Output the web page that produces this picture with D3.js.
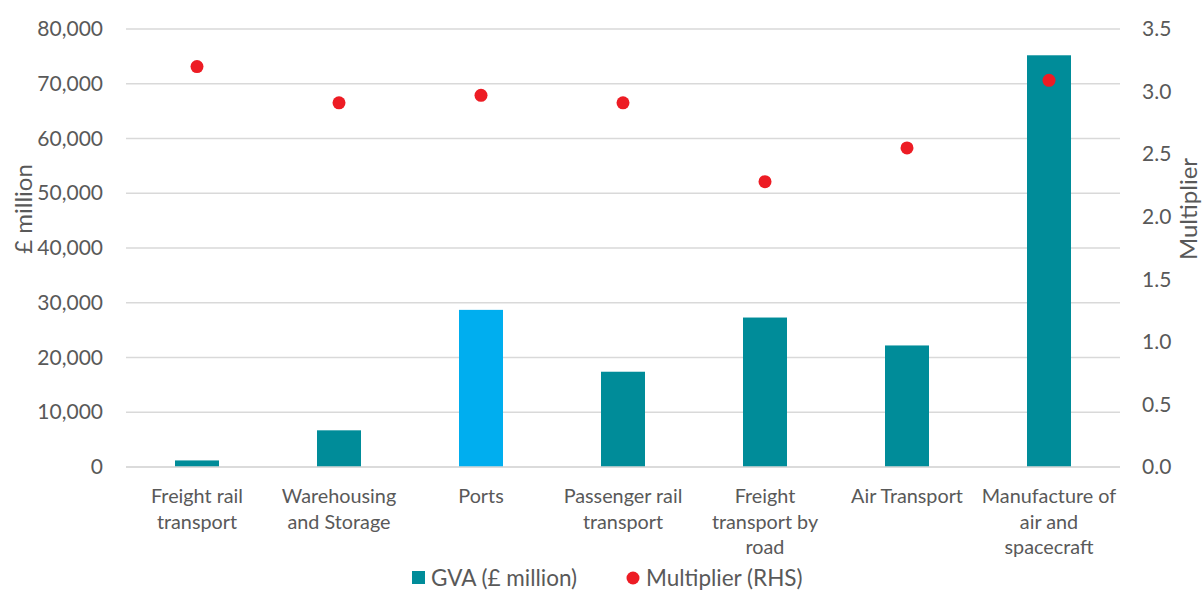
<html>
<head>
    <script src="https://d3js.org/d3.v7.min.js"></script>
    <style>
        body { margin: 0; background: #fff; }
        text { font-family: Lato, "Open Sans", sans-serif; fill: #595959; }
    </style>
</head>
<body>
    <svg id="chart" width="1203" height="590"></svg>
    <script>
        // data
        const categories = [
            ["Freight rail", "transport"],
            ["Warehousing", "and Storage"],
            ["Ports"],
            ["Passenger rail", "transport"],
            ["Freight", "transport by", "road"],
            ["Air Transport"],
            ["Manufacture of", "air and", "spacecraft"]
        ];
        const gva = [1200, 6700, 28700, 17400, 27300, 22200, 75200];
        const multiplier = [3.2, 2.91, 2.97, 2.91, 2.28, 2.55, 3.09];
        const leftTicks = [0, 10000, 20000, 30000, 40000, 50000, 60000, 70000, 80000];
        const rightTicks = [0, 0.5, 1.0, 1.5, 2.0, 2.5, 3.0, 3.5];

        const teal = "#008C99";
        const blue = "#00AEEF";
        const red = "#ED1C24";

        const svg = d3.select("#chart");
        const margins = { top: 29, left: 126, right: 83, bottom: 123 };
        const chartWidth = 1203 - margins.left - margins.right;
        const chartHeight = 590 - margins.top - margins.bottom;

        const g = svg.append("g")
            .attr("transform", "translate(" + margins.left + "," + margins.top + ")");

        const x = d3.scaleBand().domain(d3.range(categories.length)).range([0, chartWidth]);
        const yLeft = d3.scaleLinear().domain([0, 80000]).range([chartHeight, 0]);
        const yRight = d3.scaleLinear().domain([0, 3.5]).range([chartHeight, 0]);

        // gridlines
        g.append("g")
            .selectAll("line")
            .data(leftTicks)
            .join("line")
            .attr("x1", 0).attr("x2", chartWidth)
            .attr("y1", d => yLeft(d)).attr("y2", d => yLeft(d))
            .attr("stroke", "#d9d9d9")
            .attr("stroke-width", 1.3);

        // left axis labels
        const leftAxis = d3.axisLeft(yLeft).tickValues(leftTicks).tickSize(0).tickPadding(23)
            .tickFormat(d3.format(","));
        g.append("g").call(leftAxis)
            .call(a => a.select(".domain").remove())
            .selectAll("text").style("font-size", "21px").attr("fill", "#595959");

        const rightAxis = d3.axisRight(yRight).tickValues(rightTicks).tickSize(0).tickPadding(22)
            .tickFormat(d3.format(".1f"));
        g.append("g").attr("transform", "translate(" + chartWidth + ",0)").call(rightAxis)
            .call(a => a.select(".domain").remove())
            .selectAll("text").style("font-size", "21px").attr("fill", "#595959");

        // bars
        const barW = 44;
        g.selectAll(".bar")
            .data(gva)
            .join("rect")
            .attr("class", "bar")
            .attr("x", (d, i) => x(i) + x.bandwidth() / 2 - barW / 2)
            .attr("width", barW)
            .attr("y", d => yLeft(d))
            .attr("height", d => chartHeight - yLeft(d))
            .attr("fill", (d, i) => i == 2 ? blue : teal);

        // baseline over bars
        g.append("line")
            .attr("x1", 0).attr("x2", chartWidth)
            .attr("y1", chartHeight).attr("y2", chartHeight)
            .attr("stroke", "#d9d9d9").attr("stroke-width", 1.3);

        // multiplier dots
        g.selectAll(".dot")
            .data(multiplier)
            .join("circle")
            .attr("class", "dot")
            .attr("cx", (d, i) => x(i) + x.bandwidth() / 2)
            .attr("cy", d => yRight(d))
            .attr("r", 6.5)
            .attr("fill", red);

        // category labels
        categories.forEach((lines, i) => {
            const t = g.append("text")
                .attr("text-anchor", "middle")
                .style("font-size", "19.8px");
            lines.forEach((l, j) => {
                t.append("tspan")
                    .attr("x", x(i) + x.bandwidth() / 2)
                    .attr("y", chartHeight + 36 + j * 25.5)
                    .text(l);
            });
        });

        // axis titles
        svg.append("text")
            .attr("transform", "translate(32,209) rotate(-90)")
            .attr("text-anchor", "middle")
            .style("font-size", "24px")
            .text("£ million");

        svg.append("text")
            .attr("transform", "translate(1197,209) rotate(-90)")
            .attr("text-anchor", "middle")
            .style("font-size", "24px")
            .text("Multiplier");

        // legend
        const legend = svg.append("g").attr("transform", "translate(0,578)");
        legend.append("rect").attr("x", 412).attr("y", -7).attr("width", 13).attr("height", 13).attr("fill", teal);
        legend.append("text").attr("x", 431).attr("y", 8).style("font-size", "22.5px").text("GVA (£ million)");
        legend.append("circle").attr("cx", 633).attr("cy", 0).attr("r", 6.5).attr("fill", red);
        legend.append("text").attr("x", 646).attr("y", 8).style("font-size", "22.5px").text("Multiplier (RHS)");
    </script>
</body>
</html>
